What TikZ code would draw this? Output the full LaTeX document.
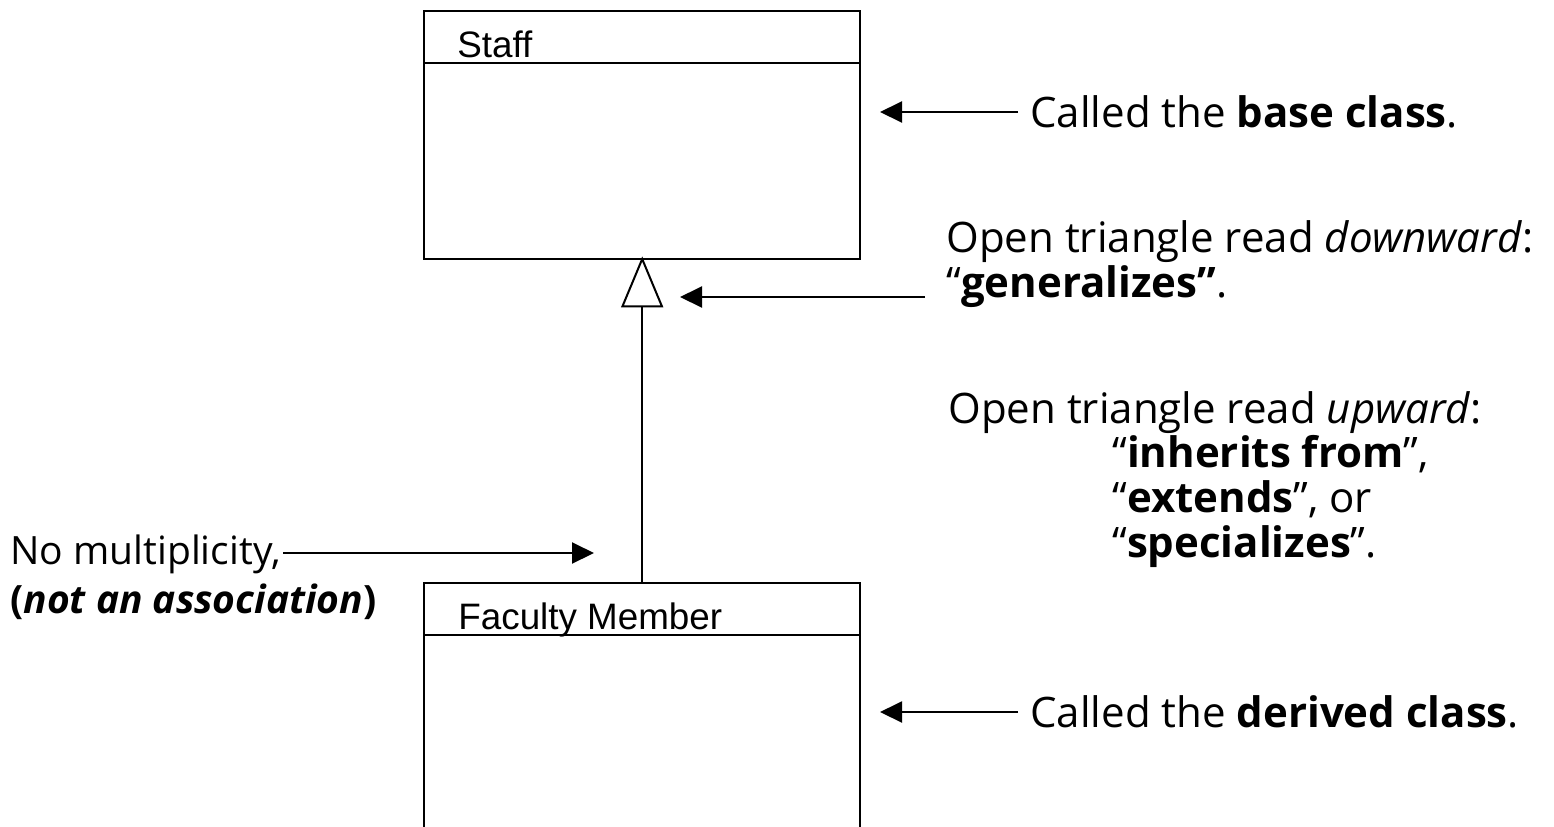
\documentclass[tikz,border=0pt]{standalone}
\usepackage{fontspec}
\setmainfont{Open Sans}
\newfontfamily\umlfont{Liberation Sans}
\usetikzlibrary{arrows.meta}
\begin{document}
\begin{tikzpicture}[x=0.5pt,y=-0.5pt,
  classbox/.style={draw, line width=1.2pt, minimum width=218pt, inner sep=0pt, anchor=north west},
  sepline/.style={line width=1.2pt},
  umltext/.style={anchor=base west, inner sep=0pt, font=\umlfont\fontsize{18.4}{22}\selectfont},
  anntext/.style={anchor=base west, inner sep=0pt, font=\fontsize{21}{25}\selectfont},
  smalltext/.style={anchor=base west, inner sep=0pt, font=\fontsize{19.5}{23}\selectfont},
  annarrow/.style={line width=1pt, -{Triangle[length=11pt,width=10.5pt]}},
  genarrow/.style={line width=1pt, shorten >=-2pt, -{Triangle[open,length=25.5pt,width=21pt]}}
]
\clip (0,0) rectangle (1554,826);
\fill[white] (0,0) rectangle (1554,826);

% classes
\node[classbox, minimum height=124pt] (staff) at (423,10) {};
\draw[sepline] (staff.west |- 0,63) -- (staff.east |- 0,63);
\node[umltext] (staffname) at (457,57) {Staff};

\node[classbox, minimum height=140pt] (fac) at (423,582) {};
\draw[sepline] (fac.west |- 0,635) -- (fac.east |- 0,635);
\node[umltext] (facname) at (458,629) {Faculty Member};

% generalization
\draw[genarrow] (fac.north) -- (staff.south);

% annotations
\node[anntext] (basecl) at (1030,127) {Called the \textbf{base class}.};
\node[anntext] (down1) at (946,252) {Open triangle read \textit{downward}:};
\node[anntext] (down2) at (946,297) {“\textbf{generalizes”}.};
\node[anntext] (up1) at (948,423) {Open triangle read \textit{upward}:};
\node[anntext] (up2) at (1112,467) {“\textbf{inherits from}”,};
\node[anntext] (up3) at (1112,512) {“\textbf{extends}”, or};
\node[anntext] (up4) at (1112,557) {“\textbf{specializes}”.};
\node[anntext] (derivedcl) at (1030,727) {Called the \textbf{derived class}.};
\node[smalltext] (nomult) at (10,564) {No multiplicity,};
\node[smalltext] (notassoc) at (10,613) {\textbf{(\textit{not an association})}};

% annotation arrows
\coordinate (a1s) at (1018,112); \coordinate (a1e) at (880,112);
\coordinate (a2s) at (925,297);  \coordinate (a2e) at (680,297);
\coordinate (a3s) at (283,553);  \coordinate (a3e) at (594,553);
\coordinate (a4s) at (1018,712); \coordinate (a4e) at (880,712);
\draw[annarrow] (a1s) -- (a1e);
\draw[annarrow] (a2s) -- (a2e);
\draw[annarrow] (a3s) -- (a3e);
\draw[annarrow] (a4s) -- (a4e);
\end{tikzpicture}
\end{document}
